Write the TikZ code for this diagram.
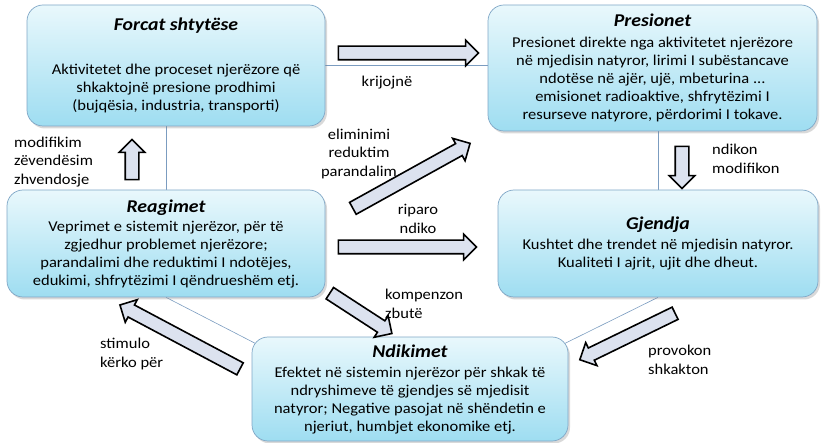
\documentclass[tikz,border=0pt]{standalone}
\usepackage{fontspec}
\setmainfont{Carlito}[FakeStretch=1.1]
\usepackage{xcolor}
\usepackage{tikz}
\usetikzlibrary{shapes.arrows, shadows, backgrounds, positioning}

\definecolor{boxtop}{HTML}{E9F8FC}
\definecolor{boxbottom}{HTML}{9EDDF1}
\definecolor{boxline}{HTML}{7FA6C6}
\definecolor{linkline}{HTML}{7B9CC0}
\definecolor{arrowfill}{HTML}{DCE2EF}

\newcommand{\boxhead}[1]{{\fontsize{18}{20}\selectfont\bfseries\itshape #1}}

\begin{document}
\begin{tikzpicture}[
    x=1pt, y=-1pt,
    box/.style={
        rectangle,
        draw=boxline,
        line width=0.7pt,
        rounded corners=16pt,
        top color=boxtop,
        bottom color=boxbottom,
        drop shadow={opacity=0.3, shadow xshift=2pt, shadow yshift=-2.5pt},
        align=center,
        inner sep=0pt,
        font=\fontsize{15}{18}\selectfont
    },
    fat/.style={
        single arrow,
        draw=black,
        line width=1.6pt,
        fill=arrowfill,
        inner xsep=0pt,
        inner ysep=6pt,
        single arrow head extend=6pt
    },
    lbl/.style={align=left, inner sep=0pt, font=\fontsize{15}{18.5}\selectfont},
    link/.style={draw=linkline, line width=0.6pt}
]
  \useasboundingbox (0,0) rectangle (821,443);

  \node[box, minimum width=298pt, minimum height=121pt] (forcat) at (176,65.5)
    {\boxhead{Forcat shtytëse}\\[26pt]
     Aktivitetet dhe proceset njerëzore që\\
     shkaktojnë presione prodhimi\\
     (bujqësia, industria, transporti)};
  \node[box, minimum width=329pt, minimum height=126pt] (presionet) at (652.5,68)
    {\boxhead{Presionet}\\[3pt]
     Presionet direkte nga aktivitetet njerëzore\\
     në mjedisin natyror, lirimi I subëstancave\\
     ndotëse në ajër, ujë, mbeturina ...\\
     emisionet radioaktive, shfrytëzimi I\\
     resurseve natyrore, përdorimi I tokave.};
  \node[box, minimum width=318pt, minimum height=107pt] (reagimet) at (166,243.5)
    {\boxhead{Reagimet}\\[1pt]
     Veprimet e sistemit njerëzor, për të\\
     zgjedhur problemet njerëzore;\\
     parandalimi dhe reduktimi I ndotëjes,\\
     edukimi, shfrytëzimi I qëndrueshëm etj.};
  \node[box, minimum width=320pt, minimum height=107pt] (gjendja) at (658,243.5)
    {\boxhead{Gjendja}\\[2pt]
     Kushtet dhe trendet në mjedisin natyror.\\
     Kualiteti I ajrit, ujit dhe dheut.};
  \node[box, minimum width=316pt, minimum height=104pt] (ndikimet) at (410,389)
    {\boxhead{Ndikimet}\\[2pt]
     Efektet në sistemin njerëzor për shkak të\\
     ndryshimeve të gjendjes së mjedisit\\
     natyror; Negative pasojat në shëndetin e\\
     njeriut, humbjet ekonomike etj.};

  \begin{scope}[on background layer]
    \draw[link] (forcat.east) -- (forcat.east -| presionet.west);
    \draw[link] (reagimet.north) -- (reagimet.north |- forcat.south);
    \draw[link] (gjendja.north) -- (gjendja.north |- presionet.south);
    \draw[link] (gjendja.south) -- ([shift={(-10,10)}]ndikimet.north east);
    \draw[link] (reagimet.south) -- ([shift={(10,10)}]ndikimet.north west);
  \end{scope}

  \node[fat, minimum height=140pt] (krijon) at (405,53) {};
  \node[fat, minimum height=40pt, rotate=90] (modif) at (132,163) {};
  \node[fat, minimum height=42pt, rotate=-90] (ndik) at (682,164) {};
  \node[fat, minimum height=134pt, rotate=29] (elimin) at (408.5,177.5) {};
  \node[fat, minimum height=138pt] (ripar) at (404,247) {};
  \node[fat, minimum height=74pt, rotate=-33] (kompenz) at (358,311.5) {};
  \node[fat, minimum height=106pt, rotate=-154] (provok) at (630.5,335) {};
  \node[fat, minimum height=136pt, rotate=152] (stimul) at (183,338.5) {};

  \node[lbl] (krijojne) at (387,83) {krijojnë};
  \node[lbl, anchor=west] (modifikim) at (14,162) {modifikim\\ zëvendësim\\ zhvendosje};
  \node[lbl, anchor=west] (ndikon) at (712,159) {ndikon\\ modifikon};
  \node[lbl, align=center] (eliminimi) at (359,154) {eliminimi\\ reduktim\\ parandalim};
  \node[lbl, align=center] (riparo) at (418,219) {riparo\\ ndiko};
  \node[lbl, anchor=west] (kompenzon) at (385,304) {kompenzon\\ zbutë};
  \node[lbl, anchor=west] (provokon) at (648,360) {provokon\\ shkakton};
  \node[lbl, anchor=west] (stimulo) at (100,354) {stimulo\\ kërko për};
\end{tikzpicture}
\end{document}
